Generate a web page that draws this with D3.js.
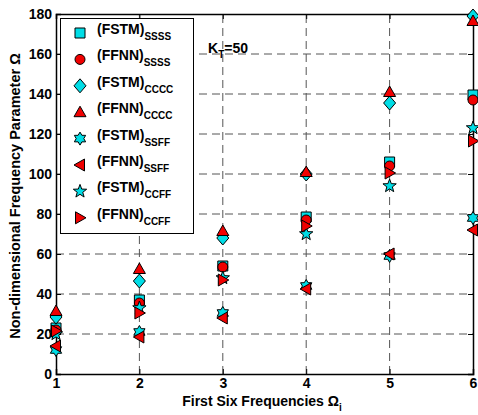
<!DOCTYPE html>
<html>
<head>
<meta charset="utf-8">
<script src="https://cdn.jsdelivr.net/npm/d3@7"></script>
<style>
  body { margin: 0; background: #fff; }
  text { font-family: Arial, "Liberation Sans", sans-serif; font-weight: bold; fill: #000; }
</style>
</head>
<body>
<svg id="chart" width="478" height="415"></svg>
<script>
// values
var modes = [1, 2, 3, 4, 5, 6];
var fstmSSSS = [23, 37, 54, 78.5, 106, 139.5];
var ffnnSSSS = [22, 35.5, 53.5, 77, 104, 137];
var fstmCCCC = [28.5, 46.5, 68, 100, 135.5, 179];
var ffnnCCCC = [31.5, 52.5, 71.5, 101, 141, 176.5];
var fstmSSFF = [12, 21, 30.5, 44, 59, 78];
var ffnnSSFF = [14, 18.5, 28, 42.5, 60, 72];
var fstmCCFF = [20, 33, 48, 70, 94, 123];
var ffnnCCFF = [21.5, 30.5, 47, 74, 100.5, 116.5];
var yTicks = [0, 20, 40, 60, 80, 100, 120, 140, 160, 180];

var cyan = "#00dde6", red = "#f00000";

var series = [
  {name: "FSTM", sub: "SSSS", values: fstmSSSS, shape: "square", fill: cyan},
  {name: "FFNN", sub: "SSSS", values: ffnnSSSS, shape: "circle", fill: red},
  {name: "FSTM", sub: "CCCC", values: fstmCCCC, shape: "diamond", fill: cyan},
  {name: "FFNN", sub: "CCCC", values: ffnnCCCC, shape: "triUp", fill: red},
  {name: "FSTM", sub: "SSFF", values: fstmSSFF, shape: "hexagram", fill: cyan},
  {name: "FFNN", sub: "SSFF", values: ffnnSSFF, shape: "triLeft", fill: red},
  {name: "FSTM", sub: "CCFF", values: fstmCCFF, shape: "pentagram", fill: cyan},
  {name: "FFNN", sub: "CCFF", values: ffnnCCFF, shape: "triRight", fill: red}
];

function star(n, ro, ri) {
  var pts = [];
  for (var i = 0; i < 2 * n; i++) {
    var a = -Math.PI / 2 + i * Math.PI / n, r = i % 2 ? ri : ro;
    pts.push([r * Math.cos(a), r * Math.sin(a)]);
  }
  return "M" + pts.map(p => p[0].toFixed(2) + "," + p[1].toFixed(2)).join("L") + "Z";
}
function markerPath(shape) {
  switch (shape) {
    case "square": return "M-5,-5H5V5H-5Z";
    case "circle": return "M5,0A5,5 0 1,1 -5,0A5,5 0 1,1 5,0Z";
    case "diamond": return "M0,-7L6,0L0,7L-6,0Z";
    case "triUp": return "M0,-6L6,4.5L-6,4.5Z";
    case "triLeft": return "M-6,0L4.5,-6L4.5,6Z";
    case "triRight": return "M6,0L-4.5,-6L-4.5,6Z";
    case "hexagram": return star(6, 6.5, 3.8);
    case "pentagram": return star(5, 7, 2.9);
  }
}

var svg = d3.select("#chart");
var x = d3.scaleLinear().domain([1, 6]).range([56, 473]);
var y = d3.scaleLinear().domain([0, 180]).range([374, 14]);

// grid
var grid = svg.append("g").attr("stroke", "#555").attr("stroke-width", 1).attr("stroke-dasharray", "8,5");
grid.selectAll(".gx").data(modes.slice(1, -1)).enter().append("line")
  .attr("x1", d => x(d)).attr("x2", d => x(d)).attr("y1", y(0)).attr("y2", y(180));
grid.selectAll(".gy").data(yTicks.slice(1, -1)).enter().append("line")
  .attr("x1", x(1)).attr("x2", x(6)).attr("y1", d => y(d)).attr("y2", d => y(d));

// axes
var xAxis = svg.append("g").attr("transform", "translate(0," + y(0) + ")")
  .call(d3.axisBottom(x).tickValues(modes).tickFormat(d3.format("d")).tickSize(-5).tickPadding(4));
var xTop = svg.append("g").attr("transform", "translate(0," + y(180) + ")")
  .call(d3.axisTop(x).tickValues(modes).tickFormat("").tickSize(-5));
var yAxis = svg.append("g").attr("transform", "translate(" + x(1) + ",0)")
  .call(d3.axisLeft(y).tickValues(yTicks).tickSize(-5).tickPadding(4));
var yRight = svg.append("g").attr("transform", "translate(" + x(6) + ",0)")
  .call(d3.axisRight(y).tickValues(yTicks).tickFormat("").tickSize(-5));
svg.selectAll(".domain").attr("stroke", "#000").attr("stroke-width", 1.5);
svg.selectAll(".tick line").attr("stroke", "#000");
svg.selectAll(".tick text").style("font-size", "14px").style("font-weight", "bold")
  .style("font-family", "Arial, 'Liberation Sans', sans-serif").attr("fill", "#000");

// markers
series.forEach(function(s) {
  svg.append("g").selectAll("path").data(s.values).enter().append("path")
    .attr("d", markerPath(s.shape))
    .attr("transform", (d, i) => "translate(" + x(modes[i]) + "," + y(d) + ")")
    .attr("fill", s.fill).attr("stroke", "#000").attr("stroke-width", 1);
});

// axis labels
var xl = svg.append("text").attr("x", 262).attr("y", 406).attr("text-anchor", "middle").style("font-size", "14px");
xl.append("tspan").text("First Six Frequencies Ω");
xl.append("tspan").attr("dy", 5).style("font-size", "10px").text("i");

svg.append("text").attr("transform", "translate(20,196) rotate(-90)")
  .attr("text-anchor", "middle").style("font-size", "14.5px")
  .text("Non-dimensional Frequency Parameter Ω");

var kt = svg.append("text").attr("x", 208).attr("y", 53).style("font-size", "14px");
kt.append("tspan").text("K");
kt.append("tspan").attr("dy", 5).style("font-size", "10px").text("T");
kt.append("tspan").attr("dy", -5).text("=50");

// legend
var legend = svg.append("g");
legend.append("rect").attr("x", 60.5).attr("y", 18.5).attr("width", 133).attr("height", 215)
  .attr("fill", "#fff").attr("stroke", "#000").attr("stroke-width", 1);
var rows = legend.selectAll(".legend").data(series).enter().append("g")
  .attr("class", "legend")
  .attr("transform", (d, i) => "translate(0," + (33 + i * 26.4) + ")");
rows.append("path").attr("d", d => markerPath(d.shape))
  .attr("transform", "translate(80,0)")
  .attr("fill", d => d.fill).attr("stroke", "#000");
var lt = rows.append("text").attr("x", 97).attr("y", 1).style("font-size", "14px");
lt.append("tspan").text(d => "(" + d.name + ")");
lt.append("tspan").attr("dy", 6).style("font-size", "10px").text(d => d.sub);
</script>
</body>
</html>
